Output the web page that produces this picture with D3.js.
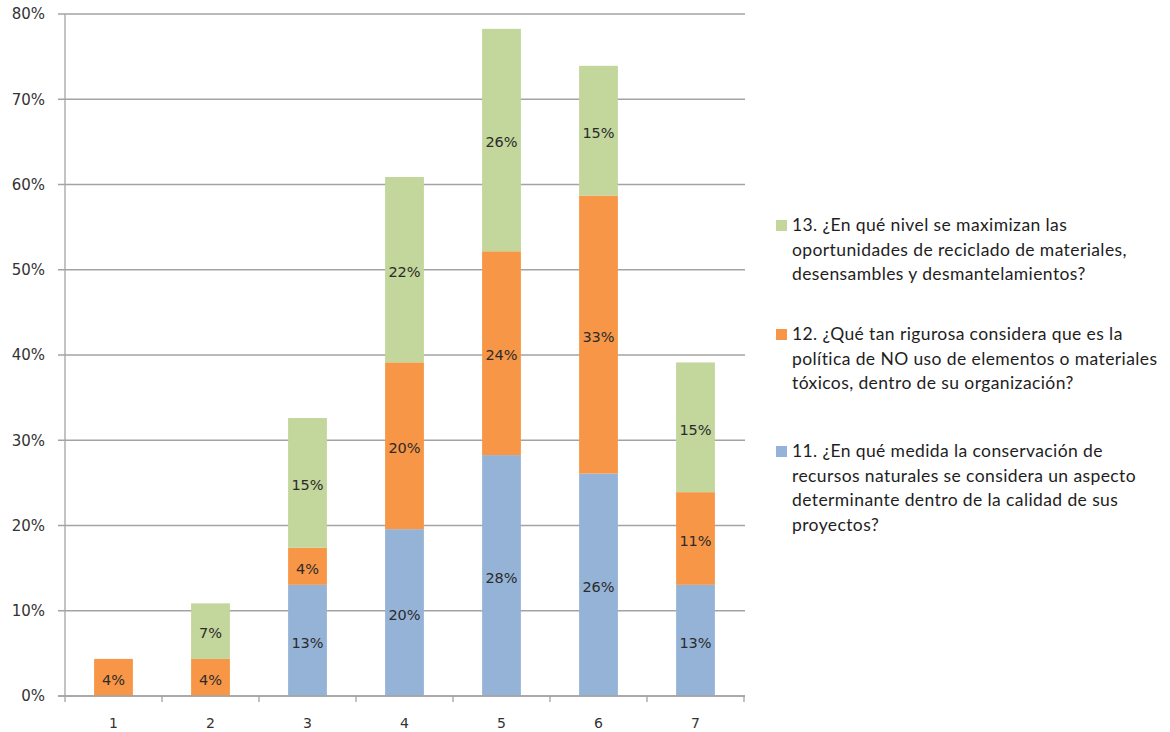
<!DOCTYPE html>
<html>
<head>
<meta charset="utf-8">
<script src="https://cdn.jsdelivr.net/npm/d3@7"></script>
<style>
  html, body { margin: 0; padding: 0; background: #fff; }
  svg { display: block; font-family: "DejaVu Sans", sans-serif; }
</style>
</head>
<body>
<svg id="chart" width="1170" height="732"></svg>
<script>
// ---- data ----
const categories = ["1", "2", "3", "4", "5", "6", "7"];
const serie11 = [0, 0, 13.04, 19.57, 28.26, 26.09, 13.04];       // blue
const serie12 = [4.35, 4.35, 4.35, 19.57, 23.91, 32.61, 10.87];  // orange
const serie13 = [0, 6.52, 15.22, 21.74, 26.09, 15.22, 15.22];    // green
const yTicks = [0, 10, 20, 30, 40, 50, 60, 70, 80];
const legendLines = {
  s13: ["13. ¿En qué nivel se maximizan las", "oportunidades de reciclado de materiales,", "desensambles y desmantelamientos?"],
  s12: ["12. ¿Qué tan rigurosa considera que es la", "política de NO uso de elementos o materiales", "tóxicos, dentro de su organización?"],
  s11: ["11. ¿En qué medida la conservación de", "recursos naturales se considera un aspecto", "determinante dentro de la calidad de sus", "proyectos?"]
};

(function () {
const svg = d3.select("#chart");
const pLeft = 65, pRight = 744, pTop = 14, pBottom = 696;

const x = d3.scaleBand().domain(categories).range([pLeft, pRight]).paddingInner(0.6).paddingOuter(0.3);
const y = d3.scaleLinear().domain([0, 80]).range([pBottom, pTop]);
const colorOf = { s11: "#95B3D7", s12: "#F79646", s13: "#C3D69B" };

// gridlines
svg.append("g").selectAll("line").data(yTicks).join("line")
  .attr("x1", pLeft - 7).attr("x2", pRight + 1)
  .attr("y1", d => y(d)).attr("y2", d => y(d))
  .attr("stroke", "#a3a3a3").attr("stroke-width", 1.3);

// y tick labels
svg.append("g").selectAll("text").data(yTicks).join("text")
  .attr("x", 45).attr("y", d => y(d)).attr("dy", "0.36em")
  .attr("text-anchor", "end")
  .attr("font-size", 15).attr("fill", "#333")
  .text(d => d + "%");

// stacked data
const table = categories.map((c, i) => ({ cat: c, s11: serie11[i], s12: serie12[i], s13: serie13[i] }));
const stack = d3.stack().keys(["s11", "s12", "s13"])(table);

const layers = svg.append("g").selectAll("g").data(stack).join("g")
  .attr("fill", d => colorOf[d.key]);
layers.selectAll("rect").data(d => d.filter(p => p[1] - p[0] > 0)).join("rect")
  .attr("x", d => x(d.data.cat))
  .attr("width", x.bandwidth())
  .attr("y", d => y(d[1]))
  .attr("height", d => y(d[0]) - y(d[1]));

// data labels
const lab = svg.append("g");
stack.forEach(layer => {
  layer.forEach(p => {
    const v = p[1] - p[0];
    if (v <= 0) return;
    lab.append("text")
      .attr("x", x(p.data.cat) + x.bandwidth() / 2)
      .attr("y", (y(p[0]) + y(p[1])) / 2 + 2)
      .attr("dy", "0.36em")
      .attr("text-anchor", "middle")
      .attr("font-size", 14.5).attr("fill", "#2b2b2b")
      .text(Math.round(v) + "%");
  });
});

// axes lines
svg.append("line").attr("x1", pLeft).attr("x2", pLeft).attr("y1", pTop).attr("y2", pBottom)
  .attr("stroke", "#a3a3a3").attr("stroke-width", 1.3);
svg.append("line").attr("x1", pLeft - 7).attr("x2", pRight + 1).attr("y1", pBottom).attr("y2", pBottom)
  .attr("stroke", "#a3a3a3").attr("stroke-width", 1.3);

// category ticks at band boundaries
const bounds = categories.map(c => x(c) - x.step() * x.paddingInner() / 2).concat([pRight]);
svg.append("g").selectAll("line").data(bounds).join("line")
  .attr("x1", d => d).attr("x2", d => d).attr("y1", pBottom).attr("y2", pBottom + 6)
  .attr("stroke", "#a3a3a3").attr("stroke-width", 1.3);

// category labels
svg.append("g").selectAll("text").data(categories).join("text")
  .attr("x", d => x(d) + x.bandwidth() / 2).attr("y", 728)
  .attr("text-anchor", "middle")
  .attr("font-size", 14).attr("fill", "#333")
  .text(d => d);

// legend
const legendPos = [
  { key: "s13", baseline: 231 },
  { key: "s12", baseline: 340 },
  { key: "s11", baseline: 457 }
];
const lg = svg.append("g");
legendPos.forEach(e => {
  lg.append("rect").attr("x", 776).attr("y", e.baseline - 11).attr("width", 11).attr("height", 11)
    .attr("fill", colorOf[e.key]);
  const t = lg.append("text")
    .attr("font-family", "Lato, 'Open Sans', sans-serif")
    .attr("font-size", 17.5).attr("letter-spacing", 0.4).attr("fill", "#1e1e1e");
  legendLines[e.key].forEach((line, i) => {
    t.append("tspan").attr("x", 792).attr("y", e.baseline + i * 24.7).text(line);
  });
});
})();
</script>
</body>
</html>
